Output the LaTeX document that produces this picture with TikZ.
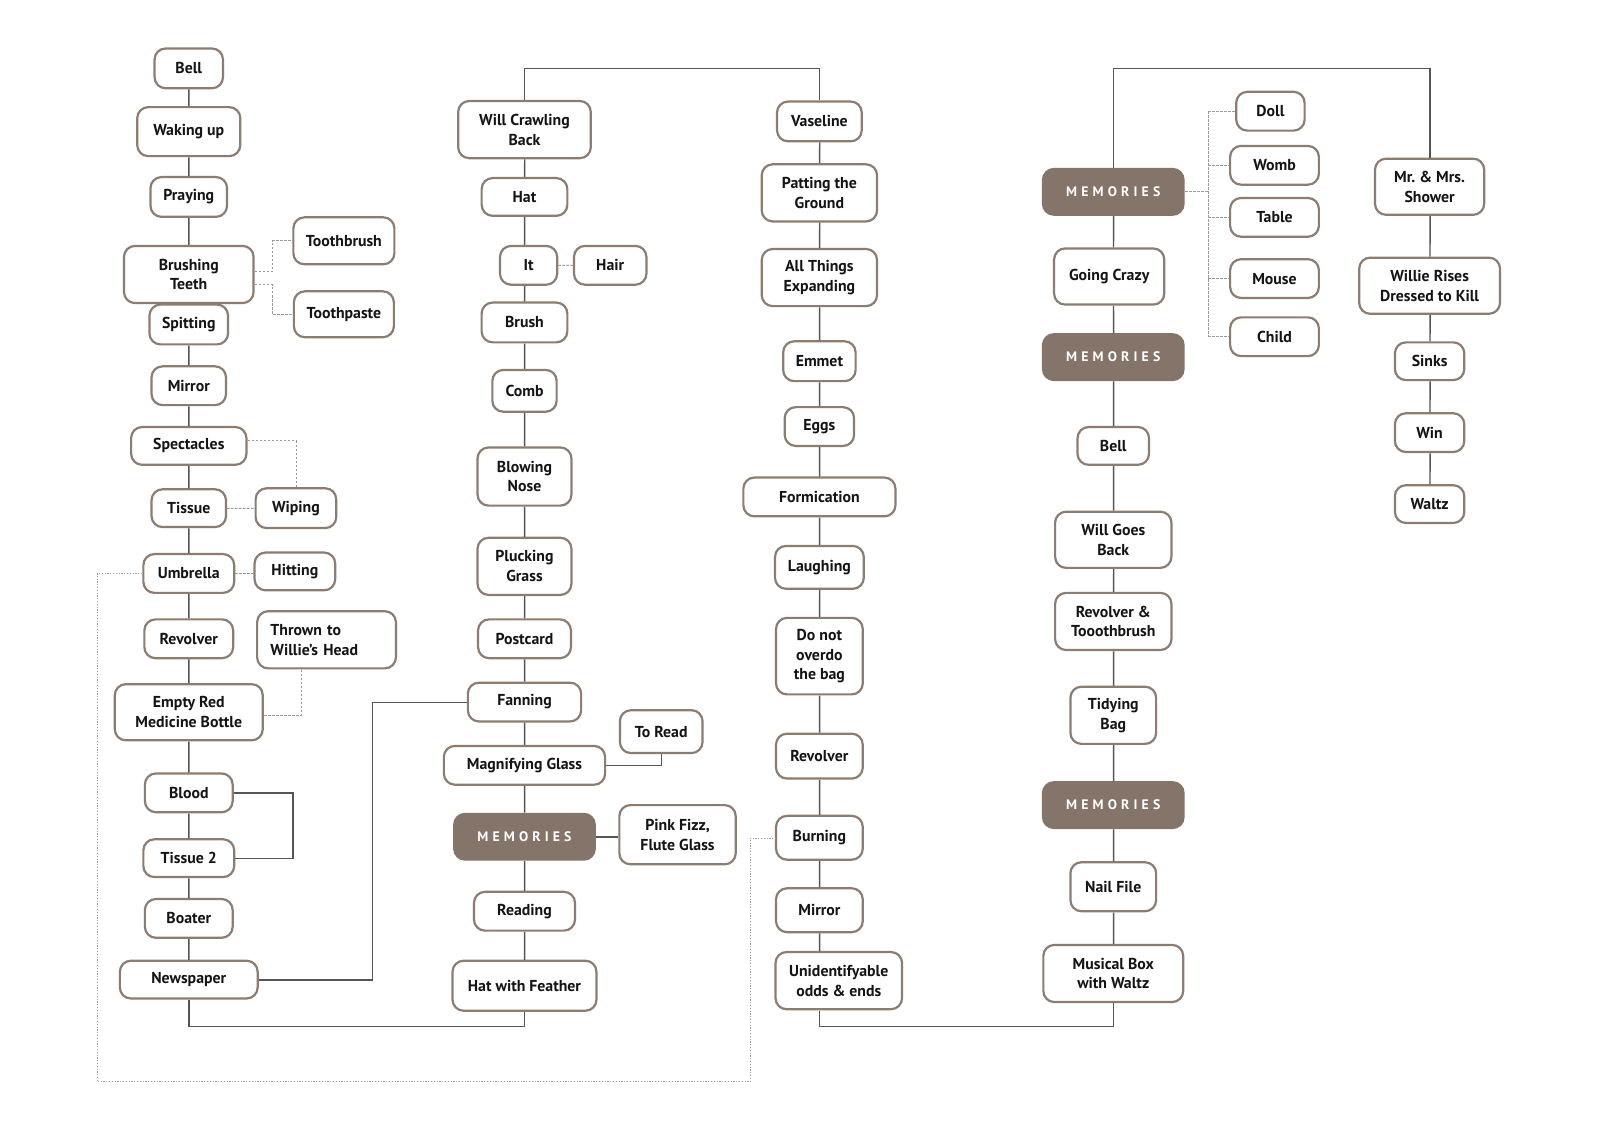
\documentclass[tikz,border=0pt]{standalone}
\usepackage{fontspec}
\setmainfont{PT Sans}
\usetikzlibrary{positioning}
\definecolor{boxline}{HTML}{8C7D73}
\definecolor{memfill}{HTML}{85746A}
\definecolor{linkgray}{HTML}{555555}
\definecolor{dashgray}{HTML}{9A9A9A}
\tikzset{
  item/.style={draw=boxline, line width=2.2pt, rounded corners=11pt, fill=white, align=center, text=black!92, font=\fontsize{15.5}{19.5}\selectfont\bfseries, minimum height=38, inner xsep=3pt, inner ysep=1pt},
  memo/.style={fill=memfill, rounded corners=12pt, minimum width=140, minimum height=47, text=white, font=\fontsize{13.5}{16}\selectfont\bfseries\addfontfeature{LetterSpace=30}},
  link/.style={draw=linkgray, line width=1.4pt},
  hint/.style={draw=dashgray, line width=0.9pt, dash pattern=on 2.5pt off 1.5pt},
  trail/.style={draw=dashgray, line width=0.9pt, dash pattern=on 1.2pt off 1.6pt},
}
\begin{document}
\begin{tikzpicture}[x=1pt, y=-1pt, scale=1.0204, every node/.style={transform shape}]
\useasboundingbox[fill=white] (0,0) rectangle (1568,1108);

\node[item, minimum width=67, minimum height=39] (bell) at (185,67) {Bell};
\node[item, minimum width=101, minimum height=48] (waking) at (185,129) {Waking up};
\node[item, minimum width=75, minimum height=39] (praying) at (185,193) {Praying};
\node[item, minimum width=127, minimum height=56] (brushing) at (185,269) {Brushing\\Teeth};
\node[item, minimum width=77, minimum height=39] (spitting) at (185,318) {Spitting};
\node[item, minimum width=73] (mirrorA) at (185,378) {Mirror};
\node[item, minimum width=113, minimum height=37] (spectacles) at (185,437) {Spectacles};
\node[item, minimum width=73, minimum height=37] (tissue) at (185,498) {Tissue};
\node[item, minimum width=89] (umbrella) at (185,562) {Umbrella};
\node[item, minimum width=87] (revolverA) at (185,626) {Revolver};
\node[item, minimum width=145, minimum height=55] (bottle) at (185,698) {Empty Red\\Medicine Bottle};
\node[item, minimum width=86] (blood) at (185,777) {Blood};
\node[item, minimum width=89, minimum height=37] (tissueB) at (185,841) {Tissue 2};
\node[item, minimum width=86] (boater) at (185,900) {Boater};
\node[item, minimum width=135, minimum height=37] (newspaper) at (185,960) {Newspaper};

\node[item, minimum width=99, minimum height=46] (toothbrush) at (337,236) {Toothbrush};
\node[item, minimum width=98, minimum height=45] (toothpaste) at (337,308) {Toothpaste};
\node[item, minimum width=79, minimum height=39] (wiping) at (290,498) {Wiping};
\node[item, minimum width=79, minimum height=37] (hitting) at (289,560) {Hitting};
\node[item, minimum width=136, minimum height=56, text width=110, align=left] (thrown) at (320,627) {Thrown to\\Willie’s Head};

\node[item, minimum width=130, minimum height=56] (willcrawl) at (514,127) {Will Crawling\\Back};
\node[item, minimum width=84, minimum height=37] (hat) at (514,193) {Hat};
\node[item, minimum width=56] (it) at (518,260) {It};
\node[item, minimum width=71] (hair) at (598,260) {Hair};
\node[item, minimum width=84, minimum height=39] (brush) at (514,316) {Brush};
\node[item, minimum width=63, minimum height=41] (comb) at (514,383) {Comb};
\node[item, minimum width=92, minimum height=57] (blowing) at (514,467) {Blowing\\Nose};
\node[item, minimum width=92, minimum height=56] (plucking) at (514,555) {Plucking\\Grass};
\node[item, minimum width=91] (postcard) at (514,626) {Postcard};
\node[item, minimum width=111] (fanning) at (514,688) {Fanning};
\node[item, minimum width=158] (magnify) at (514,750) {Magnifying Glass};
\node[item, minimum width=81, minimum height=42] (toread) at (648,717) {To Read};
\node[memo] (memA) at (514,820) {MEMORIES};
\node[item, minimum width=114, minimum height=58] (pinkfizz) at (664,818) {Pink Fizz,\\Flute Glass};
\node[item, minimum width=99] (reading) at (514,893) {Reading};
\node[item, minimum width=141, minimum height=49] (hatfeather) at (514,966) {Hat with Feather};

\node[item, minimum width=83, minimum height=39] (vaseline) at (803,119) {Vaseline};
\node[item, minimum width=113, minimum height=56] (patting) at (803,189) {Patting the\\Ground};
\node[item, minimum width=113, minimum height=56] (expanding) at (803,272) {All Things\\Expanding};
\node[item, minimum width=71, minimum height=39] (emmet) at (803,354) {Emmet};
\node[item, minimum width=68] (eggs) at (803,418) {Eggs};
\node[item, minimum width=149] (formication) at (803,487) {Formication};
\node[item, minimum width=87, minimum height=42] (laughing) at (803,556) {Laughing};
\node[item, minimum width=85, minimum height=75] (overdo) at (803,643) {Do not\\overdo\\the bag};
\node[item, minimum width=85, minimum height=44] (revolverB) at (803,741) {Revolver};
\node[item, minimum width=85, minimum height=43] (burning) at (803,821) {Burning};
\node[item, minimum width=85, minimum height=43] (mirrorB) at (803,892) {Mirror};
\node[item, minimum width=124, minimum height=56] (odds) at (822,961) {Unidentifyable\\odds \& ends};

\node[memo] (memB) at (1091,188) {MEMORIES};
\node[item, minimum width=108, minimum height=55] (crazy) at (1087,271) {Going Crazy};
\node[memo] (memC) at (1091,350) {MEMORIES};
\node[item, minimum width=70, minimum height=37] (bellB) at (1091,437) {Bell};
\node[item, minimum width=114, minimum height=55] (goesback) at (1091,529) {Will Goes\\Back};
\node[item, minimum width=114, minimum height=56] (revtooth) at (1091,609) {Revolver \&\\Tooothbrush};
\node[item, minimum width=84, minimum height=56] (tidying) at (1091,701) {Tidying\\Bag};
\node[memo] (memD) at (1091,789) {MEMORIES};
\node[item, minimum width=84, minimum height=48] (nailfile) at (1091,869) {Nail File};
\node[item, minimum width=137, minimum height=56] (musical) at (1091,954) {Musical Box\\with Waltz};

\node[item, minimum width=67] (doll) at (1245,109) {Doll};
\node[item, minimum width=87] (womb) at (1249,162) {Womb};
\node[item, minimum width=87] (table) at (1249,213) {Table};
\node[item, minimum width=87] (mouse) at (1249,273) {Mouse};
\node[item, minimum width=87] (child) at (1249,330) {Child};

\node[item, minimum width=107, minimum height=55] (shower) at (1401,183) {Mr.\ \& Mrs.\\Shower};
\node[item, minimum width=138, minimum height=55] (rises) at (1401,280) {Willie Rises\\Dressed to Kill};
\node[item, minimum width=68, minimum height=37] (sinks) at (1401,354) {Sinks};
\node[item, minimum width=68] (win) at (1401,424) {Win};
\node[item, minimum width=68, minimum height=37] (waltz) at (1401,494) {Waltz};

\coordinate (topA) at (660,67);
\coordinate (topB) at (1250,67);
\coordinate (bottomA) at (0,1006);
\coordinate (turnA) at (365,0);
\coordinate (turnB) at (287,0);
\coordinate (forkA) at (267,0);
\coordinate (forkB) at (295,0);
\coordinate (forkC) at (1184,0);
\coordinate (loopL) at (95,1060);
\coordinate (loopR) at (735,0);

\draw[link] (bell) -- (waking);
\draw[link] (waking) -- (praying);
\draw[link] (praying) -- (brushing);
\draw[link] (spitting) -- (mirrorA);
\draw[link] (mirrorA) -- (spectacles);
\draw[link] (spectacles) -- (tissue);
\draw[link] (tissue) -- (umbrella);
\draw[link] (umbrella) -- (revolverA);
\draw[link] (revolverA) -- (bottle);
\draw[link] (bottle) -- (blood);
\draw[link] (blood) -- (tissueB);
\draw[link] (tissueB) -- (boater);
\draw[link] (boater) -- (newspaper);
\draw[link] (blood.east) -| (turnB |- tissueB.east) -- (tissueB.east);
\draw[link] (newspaper.east) -| (turnA |- fanning.west) -- (fanning.west);
\draw[link] (newspaper.south) -- (newspaper.south |- bottomA) -| (hatfeather.south);

\draw[hint] ([yshift=3pt]brushing.east) -| (forkA |- toothbrush.west) -- (toothbrush.west);
\draw[hint] ([yshift=-10pt]brushing.east) -| (forkA |- toothpaste.west) -- (toothpaste.west);
\draw[hint] ([yshift=5pt]spectacles.east) -| (wiping.north);
\draw[hint] (tissue) -- (wiping);
\draw[hint] (umbrella.east) -- (umbrella.east -| hitting.west);
\draw[hint] (forkB |- thrown.south) |- ([yshift=-3pt]bottle.east);
\draw[trail] (umbrella.west) -| (loopL) -| (loopR |- burning.west) -- (burning.west);

\draw[link] (willcrawl.north) |- (topA) -| (vaseline.north);
\draw[link] (willcrawl) -- (hat);
\draw[link] (hat) -- (hat |- it.north);
\draw[link] (hat |- it.south) -- (brush);
\draw[hint] (it) -- (hair);
\draw[link] (brush) -- (comb);
\draw[link] (comb) -- (blowing);
\draw[link] (blowing) -- (plucking);
\draw[link] (plucking) -- (postcard);
\draw[link] (postcard) -- (fanning);
\draw[link] (fanning) -- (magnify);
\draw[link] (magnify.east) -| (toread.south);
\draw[link] (magnify) -- (memA);
\draw[link] (memA.east) -- (memA.east -| pinkfizz.west);
\draw[link] (memA) -- (reading);
\draw[link] (reading) -- (hatfeather);

\draw[link] (vaseline) -- (patting);
\draw[link] (patting) -- (expanding);
\draw[link] (expanding) -- (emmet);
\draw[link] (emmet) -- (eggs);
\draw[link] (eggs) -- (formication);
\draw[link] (formication) -- (laughing);
\draw[link] (laughing) -- (overdo);
\draw[link] (overdo) -- (revolverB);
\draw[link] (revolverB) -- (burning);
\draw[link] (burning) -- (mirrorB);
\draw[link] (mirrorB) -- (mirrorB |- odds.north);
\draw[link] (mirrorB |- odds.south) -- (mirrorB |- bottomA) -| (musical.south);

\draw[link] (memB.north) |- (topB) -| (shower.north);
\draw[link] (memB) -- (memB |- crazy.north);
\draw[link] (memB |- crazy.south) -- (memC);
\draw[link] (memC) -- (bellB);
\draw[link] (bellB) -- (goesback);
\draw[link] (goesback) -- (revtooth);
\draw[link] (revtooth) -- (tidying);
\draw[link] (tidying) -- (memD);
\draw[link] (memD) -- (nailfile);
\draw[link] (nailfile) -- (musical);
\draw[hint] (memB.east) -- (forkC |- memB.east);
\draw[hint] (forkC |- doll.west) -- (forkC |- child.west);
\draw[hint] (forkC |- doll.west) -- (doll.west);
\draw[hint] (forkC |- womb.west) -- (womb.west);
\draw[hint] (forkC |- table.west) -- (table.west);
\draw[hint] (forkC |- mouse.west) -- (mouse.west);
\draw[hint] (forkC |- child.west) -- (child.west);

\draw[link] (shower) -- (rises);
\draw[link] (rises) -- (sinks);
\draw[link] (sinks) -- (win);
\draw[link] (win) -- (waltz);
\end{tikzpicture}
\end{document}
